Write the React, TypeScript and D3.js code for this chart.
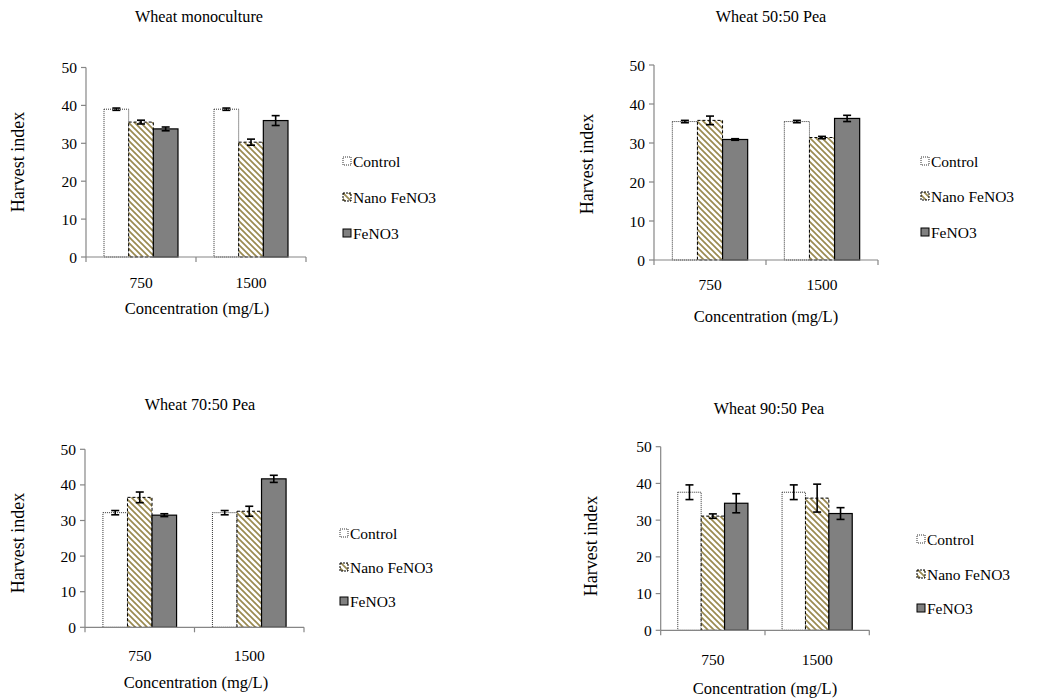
import React from 'react';
import * as d3 from 'd3';

const categories = ['750', '1500'];
const seriesNames = ['Control', 'Nano FeNO3', 'FeNO3'];
const yTicks = [0, 10, 20, 30, 40, 50];

const panelTitles = ['Wheat monoculture', 'Wheat 50:50 Pea', 'Wheat 70:50 Pea', 'Wheat 90:50 Pea'];

// values per series: [750, 1500]
const monoControl = [39.0, 39.0];
const monoNano = [35.6, 30.3];
const monoFe = [33.8, 36.0];
const monoControlErr = [0.3, 0.3];
const monoNanoErr = [0.5, 0.8];
const monoFeErr = [0.5, 1.3];

const p50Control = [35.5, 35.5];
const p50Nano = [35.8, 31.4];
const p50Fe = [30.9, 36.3];
const p50ControlErr = [0.3, 0.3];
const p50NanoErr = [1.1, 0.3];
const p50FeErr = [0.2, 0.8];

const p70Control = [32.2, 32.2];
const p70Nano = [36.5, 32.6];
const p70Fe = [31.5, 41.7];
const p70ControlErr = [0.6, 0.6];
const p70NanoErr = [1.5, 1.4];
const p70FeErr = [0.4, 1.0];

const p90Control = [37.6, 37.6];
const p90Nano = [31.1, 36.0];
const p90Fe = [34.6, 31.8];
const p90ControlErr = [2.0, 2.0];
const p90NanoErr = [0.6, 3.8];
const p90FeErr = [2.6, 1.6];

const panelValues = [
  [monoControl, monoNano, monoFe],
  [p50Control, p50Nano, p50Fe],
  [p70Control, p70Nano, p70Fe],
  [p90Control, p90Nano, p90Fe],
];
const panelErrors = [
  [monoControlErr, monoNanoErr, monoFeErr],
  [p50ControlErr, p50NanoErr, p50FeErr],
  [p70ControlErr, p70NanoErr, p70FeErr],
  [p90ControlErr, p90NanoErr, p90FeErr],
];

// layout of each panel on the page
const layouts = [
  { x0: 86, x1: 306, y0: 257, y1: 67.5, tx: 199, ty: 17, ylx: 18, yly: 162, xlx: 197, xly: 308, tly: 282, lx: 343, ly: [161, 197, 233] },
  { x0: 654, x1: 878, y0: 260, y1: 65, tx: 771, ty: 17, ylx: 587, yly: 164, xlx: 766, xly: 316, tly: 284, lx: 921, ly: [161, 196, 232] },
  { x0: 85, x1: 304, y0: 627.3, y1: 449.3, tx: 200, ty: 405, ylx: 18, yly: 543, xlx: 196, xly: 682, tly: 655, lx: 340, ly: [533, 567, 601] },
  { x0: 660.7, x1: 869.3, y0: 630.3, y1: 446.7, tx: 769, ty: 409, ylx: 591, yly: 546, xlx: 765, xly: 688, tly: 659, lx: 917, ly: [539, 574, 608] },
];

const FONT = "'Liberation Serif', 'DejaVu Serif', serif";
const AXIS = '#868686';

const barStyle = (s: number) => {
  if (s === 0) return { fill: '#ffffff', stroke: '#333', strokeDasharray: '1,1', strokeWidth: 1 };
  if (s === 1) return { fill: 'url(#hatch)', stroke: '#000', strokeDasharray: '3,2', strokeWidth: 1 };
  return { fill: '#808080', stroke: '#000', strokeDasharray: undefined, strokeWidth: 1.2 };
};

const Panel = ({ idx }: { idx: number }) => {
  const L = layouts[idx];
  const vals = panelValues[idx];
  const errs = panelErrors[idx];

  const x = d3.scaleBand<string>().domain(categories).range([L.x0, L.x1]).padding(0);
  const xs = d3.scaleBand<string>().domain(seriesNames).range([0, x.bandwidth()]).paddingInner(0).paddingOuter(0.73);
  const y = d3.scaleLinear().domain([0, 50]).range([L.y0, L.y1]);

  const xTickPos = [...categories.map(c => x(c) as number), L.x1];

  return (
    <g style={{ fontFamily: FONT }} fill="#000">
      <text x={L.tx} y={L.ty} textAnchor="middle" dominantBaseline="central" fontSize={16.2}>{panelTitles[idx]}</text>

      {/* bars */}
      {seriesNames.map((s, si) =>
        categories.map((c, ci) => {
          const bx = (x(c) as number) + (xs(s) as number);
          const v = vals[si][ci];
          const st = barStyle(si);
          return (
            <rect key={`${s}-${c}`} x={bx} y={y(v)} width={xs.bandwidth()} height={y(0) - y(v)}
              fill={st.fill} stroke={st.stroke} strokeWidth={st.strokeWidth} strokeDasharray={st.strokeDasharray} />
          );
        })
      )}

      {/* error bars */}
      {seriesNames.map((s, si) =>
        categories.map((c, ci) => {
          const cx = (x(c) as number) + (xs(s) as number) + xs.bandwidth() / 2;
          const v = vals[si][ci];
          const e = errs[si][ci];
          return (
            <g key={`e-${s}-${c}`} stroke="#000" strokeWidth={1.6}>
              <line x1={cx} x2={cx} y1={y(v + e)} y2={y(v - e)} />
              <line x1={cx - 4} x2={cx + 4} y1={y(v + e)} y2={y(v + e)} />
              <line x1={cx - 4} x2={cx + 4} y1={y(v - e)} y2={y(v - e)} />
            </g>
          );
        })
      )}

      {/* y axis */}
      <line x1={L.x0} x2={L.x0} y1={y(0)} y2={y(50)} stroke={AXIS} strokeWidth={1.2} />
      {yTicks.map(t => (
        <g key={t}>
          <line x1={L.x0 - 5} x2={L.x0} y1={y(t)} y2={y(t)} stroke={AXIS} strokeWidth={1.2} />
          <text x={L.x0 - 9} y={y(t)} textAnchor="end" dominantBaseline="central" fontSize={15.5}>{t}</text>
        </g>
      ))}

      {/* x axis */}
      <line x1={L.x0} x2={L.x1} y1={y(0)} y2={y(0)} stroke={AXIS} strokeWidth={1.2} />
      {xTickPos.map((p, i) => (
        <line key={i} x1={p} x2={p} y1={y(0)} y2={y(0) + 5} stroke={AXIS} strokeWidth={1.2} />
      ))}
      {categories.map(c => (
        <text key={c} x={(x(c) as number) + x.bandwidth() / 2} y={L.tly} textAnchor="middle" dominantBaseline="central" fontSize={15.5}>{c}</text>
      ))}

      <text x={L.xlx} y={L.xly} textAnchor="middle" dominantBaseline="central" fontSize={16.5}>Concentration (mg/L)</text>
      <text transform={`translate(${L.ylx},${L.yly}) rotate(-90)`} textAnchor="middle" dominantBaseline="central" fontSize={18}>Harvest index</text>

      {/* legend */}
      {seriesNames.map((s, si) => {
        const st = barStyle(si);
        return (
          <g key={s}>
            <rect x={L.lx} y={L.ly[si] - 4} width={8} height={8} fill={st.fill} stroke={st.stroke}
              strokeWidth={1} strokeDasharray={si === 0 ? '1,1' : si === 1 ? '2,1' : undefined} />
            <text x={L.lx + 10} y={L.ly[si]} dominantBaseline="central" fontSize={15.5}>{s}</text>
          </g>
        );
      })}
    </g>
  );
};

export default function App() {
  return (
    <div style={{ position: 'absolute', left: 0, top: 0 }}>
      <svg width={1040} height={700} style={{ display: 'block', background: '#fff' }}>
        <defs>
          <pattern id="hatch" patternUnits="userSpaceOnUse" width={6} height={6}>
            <rect width={6} height={6} fill="#fff" />
            <path d="M0,0 L6,6 M-1,5 L1,7 M5,-1 L7,1" stroke="#9a8a50" strokeWidth={1.7} />
          </pattern>
        </defs>
        {[0, 1, 2, 3].map(i => <Panel key={i} idx={i} />)}
      </svg>
    </div>
  );
}
